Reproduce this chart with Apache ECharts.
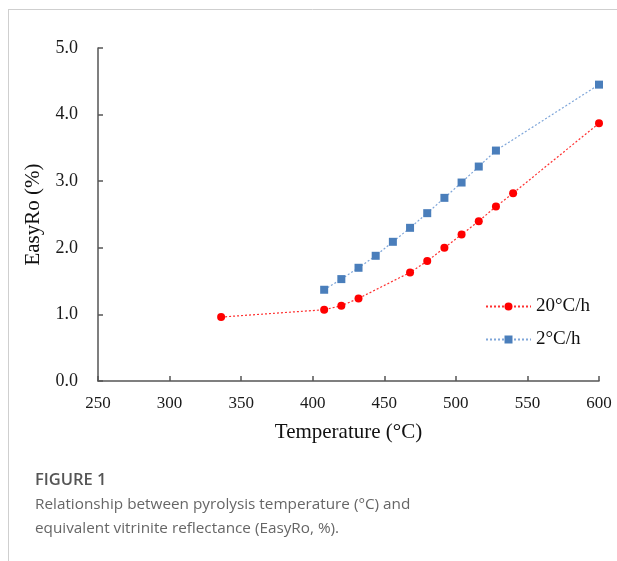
<!DOCTYPE html>
<html>
<head>
<meta charset="utf-8">
<script src="https://cdn.jsdelivr.net/npm/echarts@6/dist/echarts.min.js"></script>
<style>
  html, body { margin: 0; padding: 0; background: #fff; }
  #chart { width: 617px; height: 561px; }
</style>
</head>
<body>
<div id="chart"></div>
<script>
// Heating-rate series: pyrolysis temperature (°C) vs EasyRo (%)
const seriesNames = ['20°C/h', '2°C/h'];
const temps20 = [336, 408, 420, 432, 468, 480, 492, 504, 516, 528, 540, 600];
const ro20 = [0.96, 1.07, 1.13, 1.24, 1.63, 1.80, 2.00, 2.20, 2.40, 2.62, 2.82, 3.87];
const temps2 = [408, 420, 432, 444, 456, 468, 480, 492, 504, 516, 528, 600];
const ro2 = [1.37, 1.53, 1.70, 1.88, 2.09, 2.30, 2.52, 2.75, 2.98, 3.22, 3.46, 4.45];

const xTicks = [250, 300, 350, 400, 450, 500, 550, 600];
const yTicks = [0, 1, 2, 3, 4, 5];

const captionTitle = 'FIGURE 1';
const captionLines = [
  'Relationship between pyrolysis temperature (°C) and',
  'equivalent vitrinite reflectance (EasyRo, %).'
];

const pairs = (xs, ys) => xs.map((x, i) => [x, ys[i]]);
const serif = 'Liberation Serif';
const axisColor = '#555';

const chart = echarts.init(document.getElementById('chart'), null, { renderer: 'canvas' });

chart.setOption({
  animation: false,
  backgroundColor: '#fff',
  textStyle: { fontFamily: serif },
  grid: { left: 98, right: 18, top: 48, bottom: 180, containLabel: false },
  xAxis: {
    type: 'value',
    min: xTicks[0],
    max: xTicks[xTicks.length - 1],
    interval: xTicks[1] - xTicks[0],
    name: 'Temperature (°C)',
    nameLocation: 'middle',
    nameGap: 41,
    nameTextStyle: { fontFamily: serif, fontSize: 21, color: '#111' },
    axisLine: { lineStyle: { color: axisColor, width: 1.5 } },
    axisTick: { inside: true, length: 5, lineStyle: { color: axisColor, width: 1.5 } },
    axisLabel: { fontFamily: serif, fontSize: 17, color: '#1a1a1a', margin: 14 },
    splitLine: { show: false }
  },
  yAxis: {
    type: 'value',
    min: yTicks[0],
    max: yTicks[yTicks.length - 1],
    interval: 1,
    name: 'EasyRo (%)',
    nameLocation: 'middle',
    nameGap: 54,
    nameTextStyle: { fontFamily: serif, fontSize: 21, color: '#111' },
    axisLine: { show: true, lineStyle: { color: axisColor, width: 1.5 } },
    axisTick: { show: true, inside: true, length: 5, lineStyle: { color: axisColor, width: 1.5 } },
    axisLabel: { fontFamily: serif, fontSize: 18, color: '#1a1a1a', margin: 20,
                 formatter: v => v.toFixed(1) },
    splitLine: { show: false }
  },
  legend: {
    orient: 'vertical',
    left: 480,
    top: 292,
    itemWidth: 45,
    itemHeight: 10,
    itemGap: 14,
    textStyle: { fontFamily: serif, fontSize: 19, color: '#111' },
    data: seriesNames
  },
  series: [
    {
      name: seriesNames[0],
      type: 'line',
      data: pairs(temps20, ro20),
      symbol: 'circle',
      symbolSize: 8,
      itemStyle: { color: '#ff0000' },
      lineStyle: { color: '#ff3030', width: 1.2, type: [2, 2] }
    },
    {
      name: seriesNames[1],
      type: 'line',
      data: pairs(temps2, ro2),
      symbol: 'rect',
      symbolSize: 8,
      itemStyle: { color: '#4a7ebb' },
      lineStyle: { color: '#7fa6d9', width: 1.2, type: [2, 2] }
    }
  ],
  graphic: [
    { type: 'line', shape: { x1: 8, y1: 9.5, x2: 617, y2: 9.5 },
      style: { stroke: '#cfcfcf', lineWidth: 1 }, silent: true },
    { type: 'line', shape: { x1: 8.5, y1: 9, x2: 8.5, y2: 561 },
      style: { stroke: '#cfcfcf', lineWidth: 1 }, silent: true },
    { type: 'text', left: 35, top: 472,
      style: { text: captionTitle, font: '600 16.5px "Open Sans", sans-serif', fill: '#555' } },
    { type: 'text', left: 35, top: 497,
      style: { text: captionLines[0], font: '15.3px "Open Sans", sans-serif', fill: '#666' } },
    { type: 'text', left: 35, top: 521,
      style: { text: captionLines[1], font: '15.3px "Open Sans", sans-serif', fill: '#666' } }
  ]
});
</script>
</body>
</html>
